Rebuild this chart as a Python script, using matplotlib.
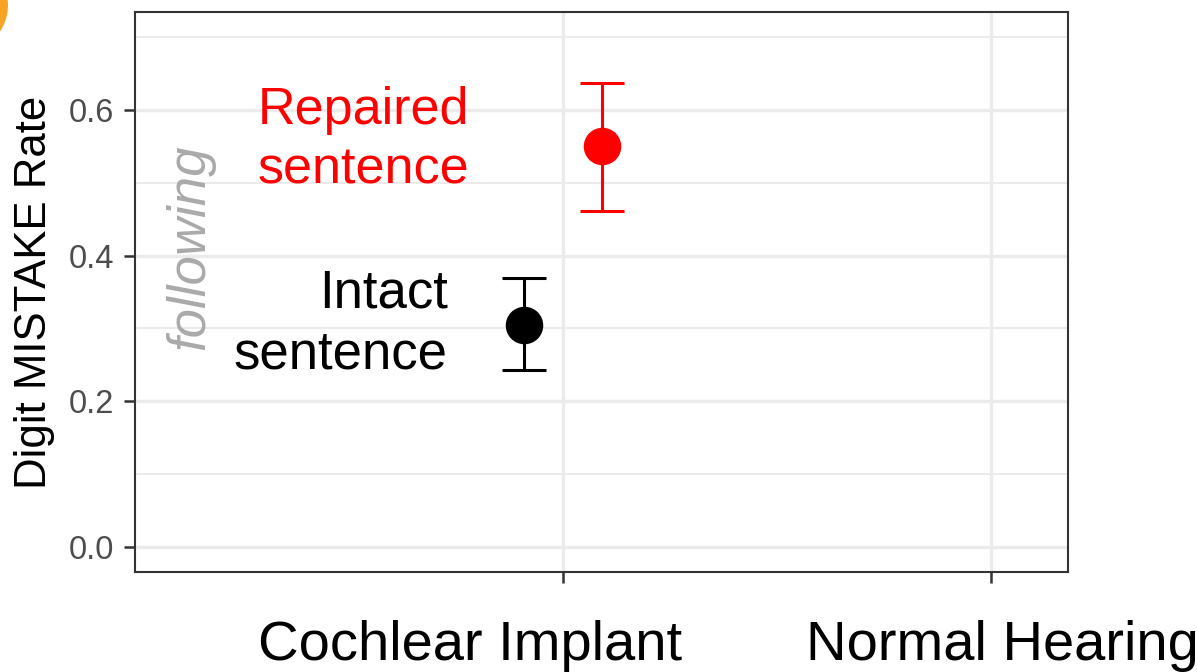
import matplotlib
matplotlib.use("Agg")
import matplotlib.pyplot as plt
from matplotlib.patches import Ellipse
from matplotlib.ticker import MultipleLocator

plt.rcParams['font.family'] = ['Liberation Sans', 'DejaVu Sans']

# Data
conditions = ["Intact", "Repaired"]
x_pos = [0.91, 1.09]
means = [0.305, 0.551]
lower = [0.243, 0.462]
upper = [0.369, 0.638]
colors = ["black", "red"]
groups = ["Cochlear Implant", "Normal Hearing"]
yticks = [0.0, 0.2, 0.4, 0.6]

W, H = 1197, 672
fig = plt.figure(figsize=(W / 100, H / 100), dpi=100)
ax = fig.add_axes([135 / W, 1 - 572 / H, (1068 - 135) / W, (572 - 12) / H])

ax.set_xlim(0, 2.18)
ax.set_ylim(-0.035, 0.735)

# grid
ax.set_yticks(yticks)
ax.set_yticklabels([f"{v:.1f}" for v in yticks])
ax.yaxis.set_minor_locator(MultipleLocator(0.1))
ax.set_xticks([1, 2])
ax.set_xticklabels(["", ""])
ax.grid(which='major', color='#EBEBEB', lw=2.4, zorder=0)
ax.grid(which='minor', axis='y', color='#EBEBEB', lw=1.4, zorder=0)
ax.set_axisbelow(True)
ax.tick_params(axis='y', which='minor', length=0)
ax.tick_params(axis='both', which='major', length=8, width=1.8, color='#333333',
               labelsize=23.5, labelcolor='#4D4D4D', pad=7)
for s in ax.spines.values():
    s.set_color('#333333')
    s.set_linewidth(1.5)

# points & error bars
for xp, m, lo, up, c in zip(x_pos, means, lower, upper, colors):
    ax.errorbar([xp], [m], yerr=[[m - lo], [up - m]], fmt='o', color=c,
                ms=26, lw=2.2, capsize=16, capthick=2.2, zorder=3)

# annotations
ax.text(0.780, 0.581, "Repaired", color='red', fontsize=37.5, ha='right', va='baseline')
ax.text(0.780, 0.499, "sentence", color='red', fontsize=37.5, ha='right', va='baseline')
ax.text(0.731, 0.329, "Intact", color='black', fontsize=38, ha='right', va='baseline')
ax.text(0.731, 0.245, "sentence", color='black', fontsize=38, ha='right', va='baseline')
ax.text(0.13, 0.412, "following", color='#AAAAAA', fontsize=38, style='italic',
        rotation=90, ha='center', va='center')

# y label
fig.text(35 / W, 1 - 292 / H, "Digit MISTAKE Rate", rotation=90, fontsize=31.5,
         ha='center', va='center')

# group labels
fig.text(258 / W, 1 - 660 / H, groups[0], fontsize=40.4, ha='left', va='baseline')
fig.text(806 / W, 1 - 660 / H, groups[1], fontsize=40.4, ha='left', va='baseline')

# orange blob at top-left
fig.patches.append(Ellipse((-40 / W, 1 - 5 / H), 96 / W, 96 / H,
                           transform=fig.transFigure, facecolor='#F7A425',
                           edgecolor='none', figure=fig))

fig.savefig("out.png", dpi=100)
